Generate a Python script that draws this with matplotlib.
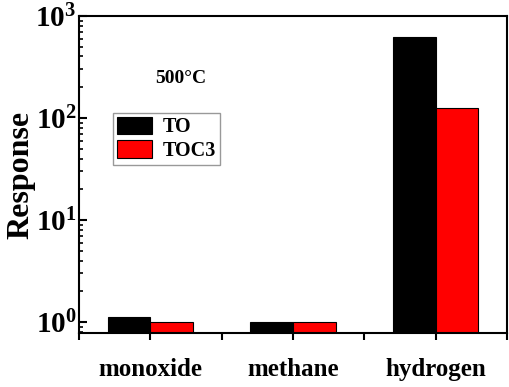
import numpy as np
import matplotlib
matplotlib.use("Agg")
import matplotlib.pyplot as plt
from matplotlib.ticker import LogLocator, FixedLocator, FuncFormatter

plt.rcParams['font.family'] = 'Liberation Serif'
plt.rcParams['font.weight'] = 'bold'
plt.rcParams['mathtext.fontset'] = 'custom'
plt.rcParams['mathtext.rm'] = 'Liberation Serif:bold'
plt.rcParams['mathtext.bf'] = 'Liberation Serif:bold'
plt.rcParams['mathtext.it'] = 'Liberation Serif:bold'

# data
categories = ['monoxide', 'methane', 'hydrogen']
to_vals = [1.12, 1.01, 627]
toc3_vals = [1.0, 1.0, 124]
series_names = ['TO', 'TOC3']

fig = plt.figure(figsize=(5.1, 3.87), dpi=100)
ax = fig.add_axes([0.155, 0.1395, 0.839, 0.8195])

x = np.arange(1, len(categories) + 1)
w = 0.3
ax.bar(x - w / 2, to_vals, w, color='black', edgecolor='black', linewidth=0.8,
       label=series_names[0])
ax.bar(x + w / 2, toc3_vals, w, color='red', edgecolor='black', linewidth=0.8,
       label=series_names[1])

ax.set_yscale('log')
ax.set_ylim(0.78, 1000)
ax.set_xlim(0.5, 3.5)

ax.yaxis.set_major_locator(LogLocator(base=10, numticks=10))
ax.yaxis.set_minor_locator(LogLocator(base=10, subs=np.arange(2, 10), numticks=10))
ax.yaxis.set_major_formatter(FuncFormatter(lambda v, p: r'$10^{%d}$' % round(np.log10(v))))
ax.tick_params(axis='y', which='major', direction='in', length=6, width=1.5,
               labelsize=21, pad=2)
ax.tick_params(axis='y', which='minor', direction='in', length=3, width=1.2)

ax.set_xticks(x)
ax.set_xticklabels(categories)
ax.xaxis.set_minor_locator(FixedLocator([0.5, 1.5, 2.5, 3.5]))
ax.tick_params(axis='x', which='both', direction='out', length=5, width=1.5,
               labelsize=18, pad=13)

for s in ax.spines.values():
    s.set_linewidth(1.5)

ax.set_ylabel('Response', fontsize=23, fontweight='bold', labelpad=0)

ax.text(0.238, 0.804, '500°C', transform=ax.transAxes, ha='center', va='center',
        fontsize=14, fontweight='bold')

leg = ax.legend(loc='upper left', bbox_to_anchor=(0.08, 0.695), fontsize=14.5,
                frameon=True, fancybox=False, edgecolor='gray',
                handlelength=1.7, handleheight=0.95, borderpad=0.2,
                labelspacing=0.15, handletextpad=0.55, borderaxespad=0)
leg.get_frame().set_linewidth(1.0)

fig.savefig('out.png', dpi=100)
